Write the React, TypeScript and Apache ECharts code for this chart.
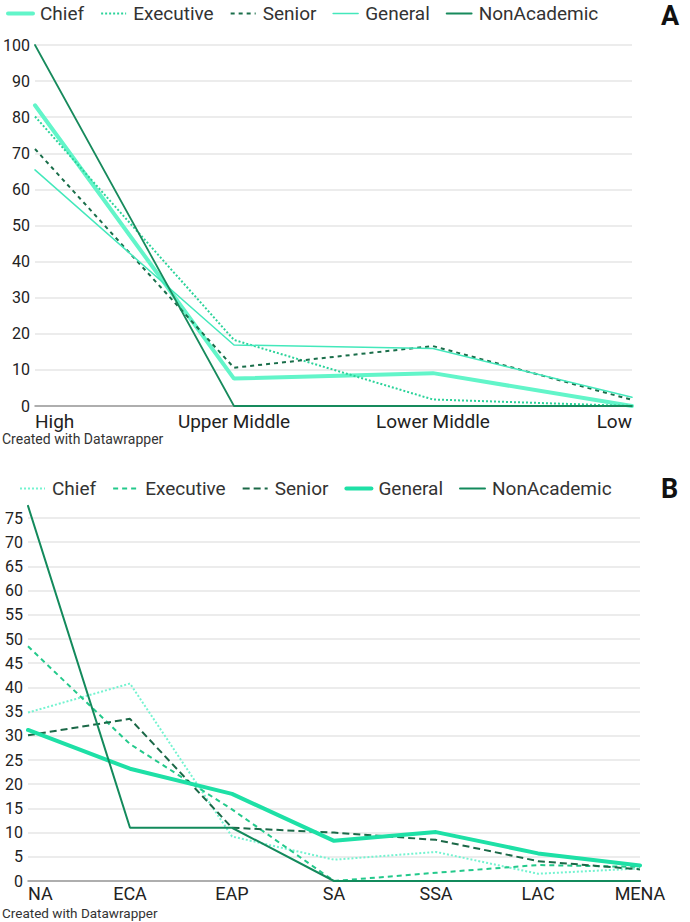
import React, { useEffect, useRef } from "react";
import * as echarts from "echarts";

const seriesNames = ["Chief", "Executive", "Senior", "General", "NonAcademic"];

// Chart A
const incomeCategories = ["High", "Upper Middle", "Lower Middle", "Low"];
const aChief = [83.3, 7.6, 9.1, 0];
const aExecutive = [80.2, 18.3, 1.8, 0];
const aSenior = [71.2, 10.6, 16.6, 1.7];
const aGeneral = [65.4, 16.9, 15.9, 2.4];
const aNonAcademic = [100, 0, 0, 0];

// Chart B
const regionCategories = ["NA", "ECA", "EAP", "SA", "SSA", "LAC", "MENA"];
const bChief = [34.8, 40.8, 9.2, 4.4, 6.0, 1.5, 2.6];
const bExecutive = [48.5, 28.3, 14.8, 0, 1.7, 3.3, 2.9];
const bSenior = [30.1, 33.5, 11.0, 10.0, 8.5, 4.1, 2.4];
const bGeneral = [31.2, 23.2, 18.0, 8.3, 10.1, 5.7, 3.2];
const bNonAcademic = [77.5, 11.0, 11.0, 0, 0, 0, 0];

const FONT = "Roboto, 'Noto Sans', sans-serif";

export default function App() {
  const ref = useRef<HTMLDivElement>(null);
  useEffect(() => {
    if (!ref.current) return;
    const chart = echarts.init(ref.current, null, { renderer: "svg" });

    const aStyles: [number[], string, number, any][] = [
      [aChief, "#62f5c9", 4, "solid"],
      [aExecutive, "#2bd39a", 2, [2, 2]],
      [aSenior, "#1a6e4a", 2, [4, 4]],
      [aGeneral, "#43e8bb", 1.5, "solid"],
      [aNonAcademic, "#178a5c", 1.8, "solid"],
    ];
    const bStyles: [number[], string, number, any][] = [
      [bChief, "#74f3d0", 2, [2, 2]],
      [bExecutive, "#23c98b", 2, [5, 4]],
      [bSenior, "#1b6847", 2, [7, 4]],
      [bGeneral, "#1ee0a6", 4, "solid"],
      [bNonAcademic, "#138a5c", 2, "solid"],
    ];

    const lineStyleOf = (s: [number[], string, number, any]) => ({
      color: s[1],
      width: s[2],
      type: s[3],
      cap: s[3] === "solid" ? "round" : "butt",
    });

    const series: any[] = [];
    const addSeries = (styles: typeof aStyles, idx: number) =>
      styles.forEach((s, i) =>
        series.push({
          id: (idx ? "b" : "a") + i,
          name: seriesNames[i],
          type: "line",
          data: s[0],
          xAxisIndex: idx,
          yAxisIndex: idx,
          symbol: "none",
          clip: false,
          lineStyle: lineStyleOf(s),
          itemStyle: { color: s[1] },
          emphasis: { disabled: true },
        })
      );
    addSeries(aStyles, 0);
    addSeries(bStyles, 1);

    const legendBase = {
      itemWidth: 25,
      itemHeight: 10,
      itemGap: 16,
      padding: 2,
      selectedMode: false,
      itemStyle: { opacity: 0, borderWidth: 0 },
      textStyle: { fontFamily: FONT, fontSize: 19, color: "#333", padding: [0, 0, 0, 2] },
    };
    const legendData = (styles: typeof aStyles) =>
      seriesNames.map((n, i) => ({
        name: n,
        itemStyle: { opacity: 0, borderWidth: 0 },
        lineStyle: lineStyleOf(styles[i]),
      }));

    const yAxisBase = {
      type: "value",
      min: 0,
      axisLine: { show: false },
      axisTick: { show: false },
      splitLine: { lineStyle: { color: "#e6e6e6", width: 1.5 } },
      axisLabel: { fontFamily: FONT, fontSize: 16, color: "#222", margin: 5 },
    };
    const xAxisBase = {
      type: "category",
      boundaryGap: false,
      axisTick: { show: false },
      axisLine: { lineStyle: { color: "#999", width: 1.5 } },
      splitLine: { show: false },
    };

    chart.setOption({
      animation: false,
      backgroundColor: "#fff",
      legend: [
        { ...legendBase, left: 4, top: 2, data: legendData(aStyles) },
        { ...legendBase, left: 17, top: 477, data: legendData(bStyles) },
      ],
      grid: [
        { left: 31, top: 45, width: 601, height: 361 },
        { left: 28, top: 518, width: 612, height: 363 },
      ],
      xAxis: [
        {
          ...xAxisBase,
          gridIndex: 0,
          data: incomeCategories,
          axisLabel: {
            fontFamily: FONT,
            fontSize: 19,
            color: "#222",
            margin: 6,
            alignMinLabel: "left",
            alignMaxLabel: "right",
            showMinLabel: true,
            showMaxLabel: true,
            interval: 0,
          },
        },
        {
          ...xAxisBase,
          gridIndex: 1,
          data: regionCategories,
          axisLabel: {
            fontFamily: FONT,
            fontSize: 18,
            color: "#222",
            margin: 3,
            alignMinLabel: "left",
            showMinLabel: true,
            showMaxLabel: true,
            interval: 0,
          },
        },
      ],
      yAxis: [
        { ...yAxisBase, gridIndex: 0, max: 100, interval: 10 },
        { ...yAxisBase, gridIndex: 1, max: 75, interval: 5 },
      ],
      series,
      graphic: [
        {
          type: "text",
          left: 661,
          top: 2,
          style: { text: "A", fontFamily: FONT, fontSize: 27, fontWeight: "bold", fill: "#111" },
        },
        {
          type: "text",
          left: 661,
          top: 475,
          style: { text: "B", fontFamily: FONT, fontSize: 27, fontWeight: "bold", fill: "#111" },
        },
        {
          type: "text",
          left: 2,
          top: 432,
          style: { text: "Created with Datawrapper", fontFamily: FONT, fontSize: 14, fill: "#333" },
        },
        {
          type: "text",
          left: 2,
          top: 906,
          style: { text: "Created with Datawrapper", fontFamily: FONT, fontSize: 13.5, fill: "#333" },
        },
      ],
    });
    return () => chart.dispose();
  }, []);

  return (
    <div
      ref={ref}
      style={{ position: "fixed", left: 0, top: 0, width: 690, height: 922, background: "#fff" }}
    />
  );
}
